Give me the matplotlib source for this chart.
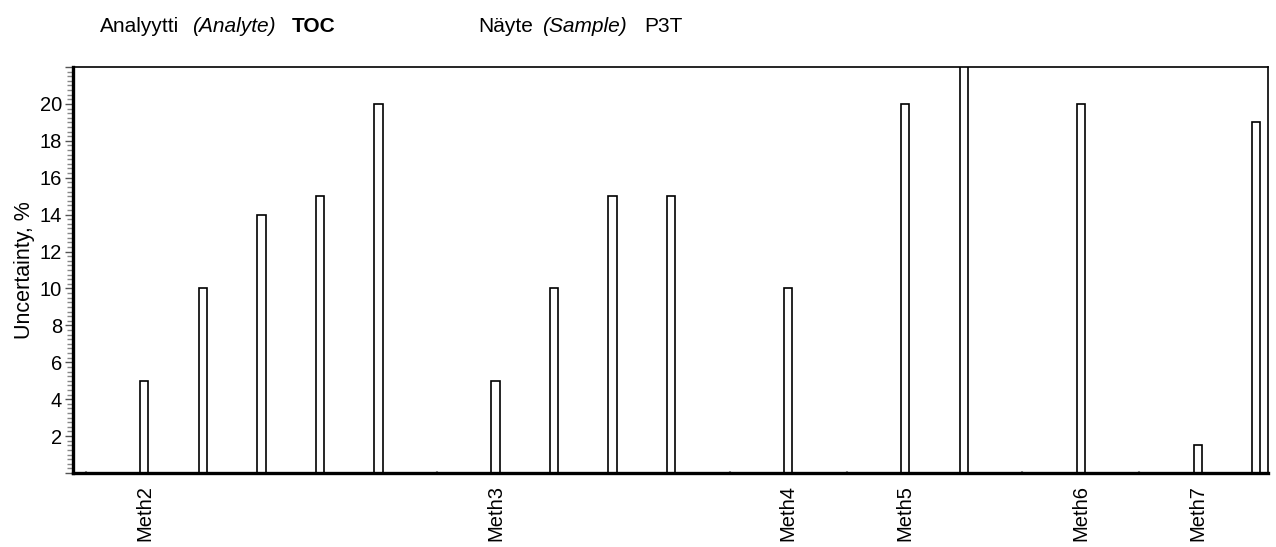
import matplotlib
matplotlib.use("Agg")
import matplotlib.pyplot as plt
import numpy as np
from matplotlib.ticker import MultipleLocator, FuncFormatter

plt.rcParams['font.family'] = ['Liberation Sans', 'DejaVu Sans']

# one slot per result, empty slots separate the methods
uncertainty = [np.nan, 5, 10, 14, 15, 20, np.nan, 5, 10, 15, 15, np.nan,
               10, np.nan, 20, 25, np.nan, 20, np.nan, 1.5, 19]
method_slots = [1, 7, 12, 14, 17, 19]
method_names = ['Meth2', 'Meth3', 'Meth4', 'Meth5', 'Meth6', 'Meth7']

W, H = 1276, 547
fig = plt.figure(figsize=(W / 100, H / 100), dpi=100)
ax = fig.add_axes([73 / W, 1 - 473 / H, (1268 - 73) / W, (473 - 67) / H])

x = np.arange(len(uncertainty))
ax.bar(x, uncertainty, width=0.14, facecolor='white', edgecolor='black',
       linewidth=1.2, zorder=2)

ax.set_xlim(-0.22, 20.2)
ax.set_ylim(0, 22)

# x axis: small grey dots at every slot, labels only under the methods
ax.set_xticks(method_slots, labels=method_names)
ax.set_xticks(x, minor=True)
ax.tick_params(axis='x', which='both', direction='inout', length=3,
               width=1.5, color='#999999')
ax.tick_params(axis='x', which='major', pad=7, labelsize=14.5, labelrotation=90)

ax.yaxis.set_major_locator(MultipleLocator(2))
ax.yaxis.set_minor_locator(MultipleLocator(0.25))
ax.yaxis.set_major_formatter(
    FuncFormatter(lambda v, p: '' if v <= 0 or v > 21 else f'{v:g}'))
ax.tick_params(axis='y', which='major', direction='out', length=6,
               width=1.0, color='#555555', labelsize=14.5, pad=2)
ax.tick_params(axis='y', which='minor', direction='out', length=4,
               width=1.0, color='#888888')
ax.set_ylabel('Uncertainty, %', fontsize=15.5, labelpad=3)

for side in ('left', 'bottom'):
    ax.spines[side].set_linewidth(2.4)
for side in ('top', 'right'):
    ax.spines[side].set_linewidth(1.2)

# header line above the plot
y_head = 1 - 32 / H
fs = 15
fig.text(100 / W, y_head, 'Analyytti', fontsize=fs, va='baseline')
fig.text(192 / W, y_head, '(Analyte)', fontsize=fs, style='italic', va='baseline')
fig.text(292 / W, y_head, 'TOC', fontsize=fs, weight='bold', va='baseline')
fig.text(478 / W, y_head, 'Näyte', fontsize=fs, va='baseline')
fig.text(542 / W, y_head, '(Sample)', fontsize=fs, style='italic', va='baseline')
fig.text(644 / W, y_head, 'P3T', fontsize=fs, va='baseline')

fig.savefig('out.png', dpi=100)
